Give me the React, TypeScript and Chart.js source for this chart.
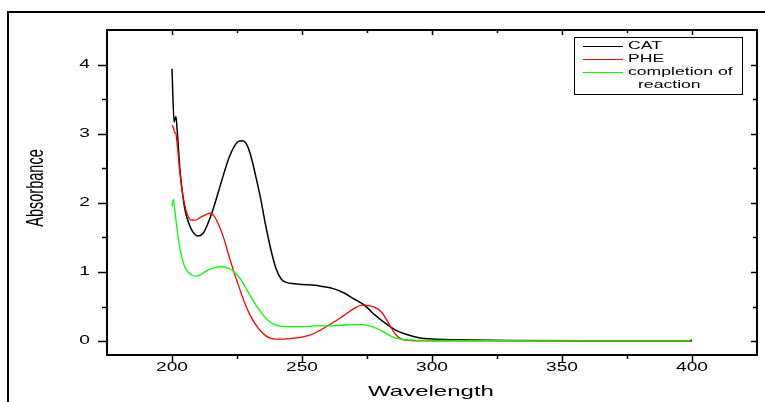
import React, { useEffect, useRef } from "react";
import { Chart, registerables } from "chart.js";

Chart.register(...registerables);

// ---- data ----
const CAT_WL = [200, 200.8, 201.5, 202, 203, 204, 205, 206.5, 208, 210, 212, 214, 216, 218, 220, 222, 224, 225.5, 227, 228.5, 230, 232, 234, 236, 238, 240, 242, 244, 247, 250, 255, 258, 262, 266, 270, 274, 278, 282, 286, 290, 295, 300, 310, 330, 360, 400];
const CAT_ABS = [3.94, 3.17, 3.25, 3.05, 2.5, 2.15, 1.9, 1.7, 1.58, 1.52, 1.56, 1.72, 1.93, 2.18, 2.43, 2.66, 2.82, 2.89, 2.9, 2.86, 2.72, 2.42, 2.08, 1.68, 1.33, 1.05, 0.9, 0.85, 0.83, 0.82, 0.81, 0.79, 0.76, 0.7, 0.61, 0.52, 0.38, 0.26, 0.16, 0.1, 0.05, 0.03, 0.02, 0.01, 0.005, 0.005];

const PHE_WL = [200, 200.6, 201, 201.5, 202, 203, 204, 205, 206, 207.5, 209, 211, 213, 214.5, 216, 218, 220, 222, 224, 226, 228, 230, 232, 234, 236, 238, 240, 243, 246, 250, 254, 258, 262, 266, 270, 273, 276, 279, 281, 283, 285, 287, 289, 292, 300, 350, 400];
const PHE_ABS = [3.12, 3.08, 3.02, 3.0, 2.85, 2.45, 2.15, 1.95, 1.82, 1.75, 1.75, 1.79, 1.83, 1.85, 1.82, 1.68, 1.48, 1.22, 0.98, 0.76, 0.55, 0.38, 0.25, 0.15, 0.08, 0.04, 0.03, 0.03, 0.04, 0.06, 0.1, 0.18, 0.27, 0.37, 0.47, 0.52, 0.51, 0.47, 0.4, 0.28, 0.15, 0.06, 0.02, 0.01, 0.005, 0.003, 0.003];

const DONE_WL = [200, 200.5, 201, 202, 203, 204, 205, 206.5, 208, 209.5, 211, 213, 215, 217, 219, 221, 223, 225, 227, 229, 231, 233, 235, 237, 239, 241, 245, 250, 255, 260, 265, 270, 273, 276, 279, 282, 285, 288, 292, 300, 350, 398, 400];
const DONE_ABS = [1.95, 2.05, 1.92, 1.6, 1.35, 1.18, 1.07, 0.99, 0.95, 0.94, 0.96, 1.01, 1.05, 1.07, 1.08, 1.06, 1.03, 0.96, 0.86, 0.73, 0.6, 0.48, 0.38, 0.3, 0.25, 0.22, 0.21, 0.21, 0.22, 0.22, 0.23, 0.24, 0.24, 0.22, 0.18, 0.12, 0.06, 0.03, 0.015, 0.01, 0.005, 0.005, 0.025];

const SERIES_LABELS = ["CAT", "PHE", "completion of reaction"];
const LEGEND_LINES = [["CAT"], ["PHE"], ["completion of", "reaction"]];
const SERIES_COLORS = ["#000000", "#ff0000", "#00ff00"];
const SERIES_WIDTHS = [1.5, 1.3, 1.3];

const X_MAJOR = [200, 250, 300, 350, 400];
const X_MINOR = [225, 275, 325, 375];
const Y_MAJOR = [0, 1, 2, 3, 4];
const Y_MINOR = [0.5, 1.5, 2.5, 3.5];

const X_TITLE = "Wavelength";
const Y_TITLE = "Absorbance";

const SX = 1.6; // horizontal stretch of all text
const FONT = '"Liberation Sans", Arial, sans-serif';

function sText(ctx: CanvasRenderingContext2D, text: string, x: number, y: number, size: number, align: CanvasTextAlign, rotate = false) {
  ctx.save();
  ctx.translate(x, y);
  ctx.scale(SX, 1);
  if (rotate) ctx.rotate(-Math.PI / 2);
  ctx.font = `${size}px ${FONT}`;
  ctx.textAlign = align;
  ctx.textBaseline = "middle";
  ctx.fillStyle = "#000";
  ctx.fillText(text, 0, 0);
  ctx.restore();
}

const deco = {
  id: "deco",
  afterDraw(chart: any) {
    const ctx: CanvasRenderingContext2D = chart.ctx;
    const xs = chart.scales.x;
    const ys = chart.scales.y;
    const { left, right, top, bottom } = chart.chartArea;
    ctx.save();
    ctx.strokeStyle = "#000";
    ctx.lineCap = "butt";

    // outer frame (left + top, rest off-page)
    ctx.lineWidth = 2;
    ctx.beginPath();
    ctx.moveTo(8, 402);
    ctx.lineTo(8, 12);
    ctx.lineTo(765, 12);
    ctx.stroke();

    // plot box
    ctx.lineWidth = 2;
    ctx.beginPath();
    ctx.moveTo(left, top);
    ctx.lineTo(right, top);
    ctx.moveTo(right, top - 1);
    ctx.lineTo(right, bottom + 1);
    ctx.moveTo(left, top - 1);
    ctx.lineTo(left, bottom + 1);
    ctx.moveTo(left - 1, bottom);
    ctx.lineTo(right + 1, bottom);
    ctx.stroke();

    // x ticks
    ctx.lineWidth = 1.5;
    ctx.beginPath();
    for (const v of X_MAJOR) {
      const p = Math.round(xs.getPixelForValue(v)) + 0.5;
      ctx.moveTo(p, bottom); ctx.lineTo(p, bottom + 7);
      ctx.moveTo(p, top); ctx.lineTo(p, top + 5);
    }
    for (const v of X_MINOR) {
      const p = Math.round(xs.getPixelForValue(v)) + 0.5;
      ctx.moveTo(p, bottom); ctx.lineTo(p, bottom + 4);
      ctx.moveTo(p, top); ctx.lineTo(p, top + 3);
    }
    // y ticks
    for (const v of Y_MAJOR) {
      const p = Math.round(ys.getPixelForValue(v)) + 0.5;
      ctx.moveTo(left, p); ctx.lineTo(left - 9, p);
      ctx.moveTo(right, p); ctx.lineTo(right - 6, p);
    }
    for (const v of Y_MINOR) {
      const p = Math.round(ys.getPixelForValue(v)) + 0.5;
      ctx.moveTo(left, p); ctx.lineTo(left - 5, p);
      ctx.moveTo(right, p); ctx.lineTo(right - 4, p);
    }
    ctx.stroke();

    // tick labels
    for (const v of X_MAJOR) sText(ctx, String(v), xs.getPixelForValue(v), 368, 12, "center");
    for (const v of Y_MAJOR) sText(ctx, String(v), 90, ys.getPixelForValue(v), 12, "right");

    // axis titles
    sText(ctx, X_TITLE, 431, 392, 15, "center");
    sText(ctx, Y_TITLE, 37, 188, 14.5, "center", true);

    // legend
    ctx.lineWidth = 1;
    ctx.strokeRect(574.5, 37.5, 168, 57);
    const rows = [46, 59, 72];
    LEGEND_LINES.forEach((lines, i) => {
      ctx.strokeStyle = SERIES_COLORS[i];
      ctx.lineWidth = 1.2;
      ctx.beginPath();
      ctx.moveTo(583, rows[i] + 0.5);
      ctx.lineTo(623, rows[i] + 0.5);
      ctx.stroke();
      lines.forEach((t, j) => {
        sText(ctx, t, j === 0 ? 628 : 638, rows[i] + j * 13, 11, "left");
      });
    });
    ctx.restore();
  },
};

function mk(wl: number[], a: number[]) {
  return wl.map((x, i) => ({ x, y: a[i] }));
}

export default function App() {
  const ref = useRef<HTMLCanvasElement | null>(null);
  useEffect(() => {
    if (!ref.current) return;
    const data = [mk(CAT_WL, CAT_ABS), mk(PHE_WL, PHE_ABS), mk(DONE_WL, DONE_ABS)];
    const chart = new Chart(ref.current, {
      type: "line",
      data: {
        datasets: data.map((d, i) => ({
          label: SERIES_LABELS[i],
          data: d,
          borderColor: SERIES_COLORS[i],
          backgroundColor: SERIES_COLORS[i],
          borderWidth: SERIES_WIDTHS[i],
          pointRadius: 0,
          cubicInterpolationMode: "monotone" as const,
          fill: false,
          order: 3 - i,
        })),
      },
      options: {
        animation: false,
        responsive: false,
        devicePixelRatio: 1,
        layout: { padding: { left: 0, top: 30, right: 8, bottom: 0 } },
        plugins: { legend: { display: false }, tooltip: { enabled: false }, title: { display: false } },
        scales: {
          x: {
            type: "linear",
            min: 175,
            max: 425,
            grid: { display: false },
            border: { display: false },
            ticks: { display: false, stepSize: 25 },
            afterFit: (s: any) => { s.height = 47; },
          },
          y: {
            type: "linear",
            min: -0.2,
            max: 4.5,
            grid: { display: false },
            border: { display: false },
            ticks: { display: false, stepSize: 0.5 },
            afterFit: (s: any) => { s.width = 107; },
          },
        },
      },
      plugins: [deco],
    });
    return () => chart.destroy();
  }, []);
  return (
    <div style={{ position: "absolute", left: 0, top: 0, width: 765, height: 402, background: "#fff" }}>
      <canvas ref={ref} width={765} height={402} style={{ width: 765, height: 402, display: "block" }} />
    </div>
  );
}
